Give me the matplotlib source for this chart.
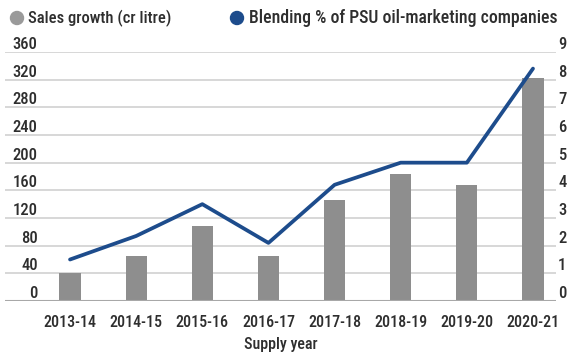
import matplotlib
matplotlib.use("Agg")
import matplotlib.pyplot as plt
from matplotlib import font_manager as fm
import numpy as np

years = ["2013-14", "2014-15", "2015-16", "2016-17", "2017-18", "2018-19", "2019-20", "2020-21"]
sales_growth = [40, 65, 108, 65, 146, 183, 167, 322]
blending_pct = [1.5, 2.35, 3.5, 2.1, 4.2, 5.0, 5.0, 8.4]
left_ticks = [0, 40, 80, 120, 160, 200, 240, 280, 320, 360]
right_ticks = [0, 1, 2, 3, 4, 5, 6, 7, 8, 9]

names = {f.name for f in fm.fontManager.ttflist}
fam = "DejaVu Sans"
for cand in ["Roboto Condensed", "Archivo Narrow", "Barlow Semi Condensed", "Asap Condensed"]:
    if cand in names:
        fam = cand
        break
plt.rcParams["font.family"] = [fam, "DejaVu Sans"]
WEIGHT = "medium"

W, H = 572, 353
fig = plt.figure(figsize=(W / 100, H / 100), dpi=100)
ax_l, ax_r = 5, 556
ax_b, ax_t = 301, 52
ax = fig.add_axes([ax_l / W, (H - ax_b) / H, (ax_r - ax_l) / W, (ax_b - ax_t) / H])

x = np.arange(len(years))
sp = 66.1
xl = -(70 - ax_l) / sp
xr = 7 + (ax_r - 533) / sp
ax.set_xlim(xl, xr)
ax.set_ylim(0, 360)

for v in left_ticks[1:]:
    ax.axhline(v, color="#d4d4d4", lw=1.3, zorder=0)
ax.axhline(0, color="#a8a8a8", lw=1.5, zorder=3)

ax.bar(x, sales_growth, width=0.32, color="#8e8e8e", zorder=2)

ax2 = ax.twinx()
ax2.set_ylim(0, 9)
ax2.plot(x, blending_pct, color="#1d4c8c", lw=2.7, zorder=4, solid_capstyle="round")

for a in (ax, ax2):
    for s in a.spines.values():
        s.set_visible(False)

TC = "#2e2e2e"
ax.set_yticks(left_ticks)
ax.set_yticklabels([str(v) for v in left_ticks], fontsize=12, color=TC, weight=WEIGHT)
ax.tick_params(axis="y", length=0, pad=-23.5)
for t in ax.get_yticklabels():
    t.set_va("bottom")
    t.set_ha("right")

ax2.set_yticks(right_ticks)
ax2.set_yticklabels([str(v) for v in right_ticks], fontsize=12, color=TC, weight=WEIGHT)
ax2.tick_params(axis="y", length=0, pad=1.5)
for t in ax2.get_yticklabels():
    t.set_va("bottom")

ax.set_xticks(x)
ax.set_xticklabels(years, fontsize=11.5, color=TC, weight=WEIGHT)
ax.tick_params(axis="x", length=0, pad=10)
ax.set_xlabel("Supply year", fontsize=11.5, color=TC, labelpad=5, weight=WEIGHT)

# legend
fig.text(28 / W, 1 - 18 / H, "Sales growth (cr litre)", fontsize=12, color=TC, va="center", weight=WEIGHT)
fig.text(249 / W, 1 - 18 / H, "Blending % of PSU oil-marketing companies", fontsize=12.8, color=TC, va="center", weight=WEIGHT)
fig.patches.append(matplotlib.patches.Ellipse((17 / W, 1 - 18 / H), 13 / W, 13 / H,
                                              transform=fig.transFigure, color="#9a9a9a"))
fig.patches.append(matplotlib.patches.Ellipse((237 / W, 1 - 18 / H), 13 / W, 13 / H,
                                              transform=fig.transFigure, color="#1d4c8c"))

fig.savefig("out.png", dpi=100)
